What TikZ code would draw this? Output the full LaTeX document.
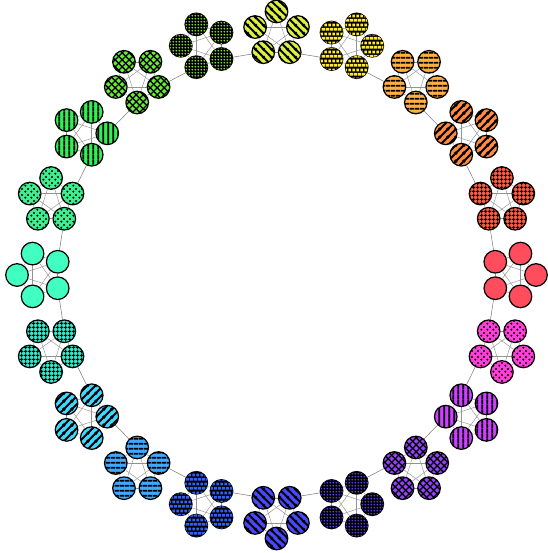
\documentclass[tikz,border=0pt]{standalone}
\usetikzlibrary{patterns,backgrounds}

% one colour per cluster, counter-clockwise from the right
\definecolor{clr0}{HTML}{FF4D5E}
\definecolor{clr1}{HTML}{FF5A3C}
\definecolor{clr2}{HTML}{FF8A40}
\definecolor{clr3}{HTML}{FFB040}
\definecolor{clr4}{HTML}{FFE830}
\definecolor{clr5}{HTML}{DDF040}
\definecolor{clr6}{HTML}{90EE30}
\definecolor{clr7}{HTML}{66EE33}
\definecolor{clr8}{HTML}{33EE55}
\definecolor{clr9}{HTML}{40EE90}
\definecolor{clr10}{HTML}{40FFC0}
\definecolor{clr11}{HTML}{33E8C8}
\definecolor{clr12}{HTML}{40D8FF}
\definecolor{clr13}{HTML}{40A8FF}
\definecolor{clr14}{HTML}{3060FF}
\definecolor{clr15}{HTML}{4848FF}
\definecolor{clr16}{HTML}{6040FF}
\definecolor{clr17}{HTML}{9840FF}
\definecolor{clr18}{HTML}{CC40FF}
\definecolor{clr19}{HTML}{FF40D8}

% patterns
\pgfdeclarepatternformonly{finegrid}{\pgfqpoint{0pt}{0pt}}{\pgfqpoint{4pt}{4pt}}{\pgfqpoint{4pt}{4pt}}{%
  \pgfsetlinewidth{1.1pt}%
  \pgfpathmoveto{\pgfqpoint{2pt}{0pt}}\pgfpathlineto{\pgfqpoint{2pt}{4pt}}%
  \pgfpathmoveto{\pgfqpoint{0pt}{2pt}}\pgfpathlineto{\pgfqpoint{4pt}{2pt}}%
  \pgfusepath{stroke}}
\pgfdeclarepatternformonly{hstripes}{\pgfqpoint{0pt}{0pt}}{\pgfqpoint{4.6pt}{4.6pt}}{\pgfqpoint{4.6pt}{4.6pt}}{%
  \pgfsetlinewidth{1.9pt}%
  \pgfpathmoveto{\pgfqpoint{0pt}{2.3pt}}\pgfpathlineto{\pgfqpoint{4.6pt}{2.3pt}}%
  \pgfusepath{stroke}}
\pgfdeclarepatternformonly{vstripes}{\pgfqpoint{0pt}{0pt}}{\pgfqpoint{4.8pt}{4.8pt}}{\pgfqpoint{4.8pt}{4.8pt}}{%
  \pgfsetlinewidth{1.9pt}%
  \pgfpathmoveto{\pgfqpoint{2.4pt}{0pt}}\pgfpathlineto{\pgfqpoint{2.4pt}{4.8pt}}%
  \pgfusepath{stroke}}
\pgfdeclarepatternformonly{rstripes}{\pgfqpoint{0pt}{0pt}}{\pgfqpoint{8pt}{8pt}}{\pgfqpoint{8pt}{8pt}}{%
  \pgfsetlinewidth{2.1pt}%
  \pgfpathmoveto{\pgfqpoint{-1pt}{-1pt}}\pgfpathlineto{\pgfqpoint{9pt}{9pt}}%
  \pgfpathmoveto{\pgfqpoint{-1pt}{7pt}}\pgfpathlineto{\pgfqpoint{1pt}{9pt}}%
  \pgfpathmoveto{\pgfqpoint{7pt}{-1pt}}\pgfpathlineto{\pgfqpoint{9pt}{1pt}}%
  \pgfusepath{stroke}}
\pgfdeclarepatternformonly{lstripes}{\pgfqpoint{0pt}{0pt}}{\pgfqpoint{8pt}{8pt}}{\pgfqpoint{8pt}{8pt}}{%
  \pgfsetlinewidth{2.1pt}%
  \pgfpathmoveto{\pgfqpoint{-1pt}{9pt}}\pgfpathlineto{\pgfqpoint{9pt}{-1pt}}%
  \pgfpathmoveto{\pgfqpoint{-1pt}{1pt}}\pgfpathlineto{\pgfqpoint{1pt}{-1pt}}%
  \pgfpathmoveto{\pgfqpoint{7pt}{9pt}}\pgfpathlineto{\pgfqpoint{9pt}{7pt}}%
  \pgfusepath{stroke}}
\pgfdeclarepatternformonly{diaghatch}{\pgfqpoint{0pt}{0pt}}{\pgfqpoint{7pt}{7pt}}{\pgfqpoint{7pt}{7pt}}{%
  \pgfsetlinewidth{1.5pt}%
  \pgfpathmoveto{\pgfqpoint{-1pt}{-1pt}}\pgfpathlineto{\pgfqpoint{8pt}{8pt}}%
  \pgfpathmoveto{\pgfqpoint{-1pt}{8pt}}\pgfpathlineto{\pgfqpoint{8pt}{-1pt}}%
  \pgfusepath{stroke}}
\pgfdeclarepatternformonly{bigdots}{\pgfqpoint{0pt}{0pt}}{\pgfqpoint{6pt}{6pt}}{\pgfqpoint{6pt}{6pt}}{%
  \pgfpathcircle{\pgfqpoint{1.5pt}{1.5pt}}{1.25pt}%
  \pgfpathcircle{\pgfqpoint{4.5pt}{4.5pt}}{1.25pt}%
  \pgfusepath{fill}}
\pgfdeclarepatternformonly{tinydots}{\pgfqpoint{0pt}{0pt}}{\pgfqpoint{3.2pt}{3.2pt}}{\pgfqpoint{3.2pt}{3.2pt}}{%
  \pgfpathcircle{\pgfqpoint{1.6pt}{1.6pt}}{1.05pt}%
  \pgfusepath{fill}}
\pgfdeclarepatternformonly{brickrows}{\pgfqpoint{0pt}{0pt}}{\pgfqpoint{4pt}{9pt}}{\pgfqpoint{4pt}{9pt}}{%
  \pgfpathrectangle{\pgfqpoint{0.5pt}{5pt}}{\pgfqpoint{3pt}{2.9pt}}%
  \pgfpathrectangle{\pgfqpoint{-1.5pt}{0.5pt}}{\pgfqpoint{3pt}{2.9pt}}%
  \pgfpathrectangle{\pgfqpoint{2.5pt}{0.5pt}}{\pgfqpoint{3pt}{2.9pt}}%
  \pgfusepath{fill}}

\begin{document}
\begin{tikzpicture}[x=1pt, y=1pt,
    bead/.style={circle, draw=black, line width=1.2pt, minimum size=22.6pt, inner sep=0pt},
    flat/.style={fill=beadclr},
    gridfill/.style={fill=beadclr, postaction={pattern=finegrid}},
    slashfill/.style={fill=beadclr, postaction={pattern=rstripes}},
    hlinefill/.style={fill=beadclr, postaction={pattern=hstripes}},
    brickfill/.style={fill=black, postaction={pattern=brickrows, pattern color=beadclr}},
    bslashfill/.style={fill=beadclr, postaction={pattern=lstripes}},
    specklefill/.style={fill=black, postaction={pattern=tinydots, pattern color=beadclr}},
    hatchfill/.style={fill=beadclr, postaction={pattern=diaghatch}},
    vlinefill/.style={fill=beadclr, postaction={pattern=vstripes}},
    spotfill/.style={fill=beadclr, postaction={pattern=bigdots}},
    inner link/.style={draw=gray!85, line width=0.45pt},
    ring link/.style={draw=gray, line width=0.55pt}
]
    \useasboundingbox (0,0) rectangle (547,553);

    % twenty clusters of five beads, one vertex pointing outwards
    \foreach \k/\look in {0/flat, 1/gridfill, 2/slashfill, 3/hlinefill, 4/brickfill,
                          5/bslashfill, 6/specklefill, 7/hatchfill, 8/vlinefill, 9/spotfill,
                          10/flat, 11/gridfill, 12/slashfill, 13/hlinefill, 14/brickfill,
                          15/bslashfill, 16/specklefill, 17/hatchfill, 18/vlinefill, 19/spotfill} {
        \colorlet{beadclr}{clr\k}
        \pgfmathsetmacro\cx{276.5+237*cos(18*\k)}
        \pgfmathsetmacro\cy{278+241*sin(18*\k)}
        \foreach \j in {0,...,4}
            \node[bead, \look] (n\k-\j) at ({\cx+22.5*cos(18*\k+72*\j)},{\cy+22.5*sin(18*\k+72*\j)}) {};
    }

    \begin{pgfonlayer}{background}
        \foreach \k in {0,...,19} {
            \foreach \a/\b in {0/1,0/2,0/3,0/4,1/2,1/3,1/4,2/3,2/4,3/4}
                \draw[inner link] (n\k-\a) -- (n\k-\b);
            \pgfmathtruncatemacro\nxt{mod(\k+1,20)}
            \draw[ring link] (n\k-2) -- (n\nxt-3);
        }
    \end{pgfonlayer}
\end{tikzpicture}
\end{document}
